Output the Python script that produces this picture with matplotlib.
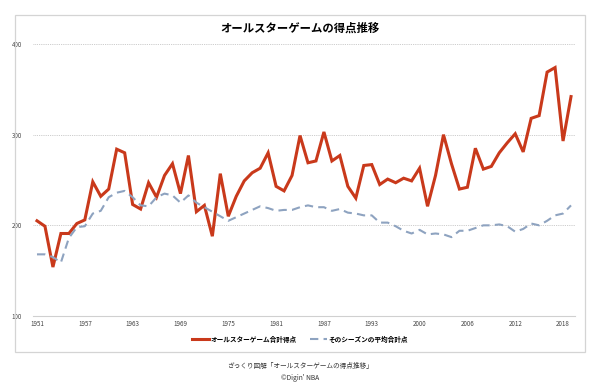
import numpy as np
import matplotlib.pyplot as plt
from matplotlib.patches import Rectangle

plt.rcParams['font.family'] = ['Noto Sans CJK JP', 'DejaVu Sans']

# seasons (1999 game cancelled)
years = list(range(1951, 1999)) + list(range(2000, 2020))

allstar_total = [205, 199, 154, 191, 191, 202, 206, 248, 232, 240,
                 284, 280, 223, 218, 247, 231, 255, 268, 235, 277,
                 215, 222, 188, 257, 210, 232, 249, 258, 263, 280,
                 243, 238, 255, 299, 269, 271, 303, 271, 277, 243,
                 230, 266, 267, 245, 251, 247, 252, 249,
                 263, 221, 255, 300, 268, 240, 242, 285, 262, 265,
                 280, 291, 301, 281, 318, 321, 369, 374, 293, 342]

season_avg = [168, 168, 165, 159, 186, 198, 199, 213, 216, 231,
              236, 238, 231, 222, 221, 231, 235, 233, 225, 233,
              225, 220, 215, 210, 205, 209, 213, 217, 221, 219,
              216, 217, 217, 220, 222, 220, 220, 216, 218, 214,
              213, 211, 211, 203, 203, 199, 194, 191,
              195, 190, 191, 190, 187, 194, 194, 197, 200, 200,
              201, 199, 193, 196, 202, 200, 205, 211, 213, 222]

red = '#c9391b'
blue = '#8ea3c0'

fig = plt.figure(figsize=(6, 3.88), dpi=100)
fig.patches.append(Rectangle((15 / 600, 1 - 352 / 388), 570 / 600, 337 / 388,
                             transform=fig.transFigure, fill=False,
                             edgecolor='#d4d4d4', linewidth=0.9))

ax = fig.add_axes([33 / 600, 1 - 316 / 388, 542 / 600, 272 / 388])
x = np.arange(len(years))
ax.plot(x, allstar_total, color=red, linewidth=2.2, solid_joinstyle='miter',
        label='オールスターゲーム合計得点')
ax.plot(x, season_avg, color=blue, linewidth=1.5, dashes=(4, 2.5),
        label='そのシーズンの平均合計点')

ax.set_xlim(-0.5, len(years) - 0.5)
ax.set_ylim(100, 400)
ax.set_yticks([100, 200, 300, 400])
ax.set_xticks(x[::6])
ax.set_xticklabels([str(years[i]) for i in x[::6]])
ax.tick_params(labelsize=4.5, length=0, colors='#444444', pad=3)
ax.tick_params(axis='y', pad=8)
ax.grid(axis='y', color='#bbbbbb', linestyle=(0, (1, 1.2)), linewidth=0.6)
for side in ['top', 'right', 'left']:
    ax.spines[side].set_visible(False)
ax.spines['bottom'].set_color('#d0d0d0')
ax.spines['bottom'].set_linewidth(0.8)

fig.text(0.5, 1 - 28 / 388, 'オールスターゲームの得点推移', ha='center', va='center',
         fontsize=8.2, fontweight='bold')
fig.legend(loc='center', bbox_to_anchor=(0.5, 1 - 339 / 388), ncol=2,
           frameon=False, handlelength=2.6, columnspacing=2.0,
           handletextpad=0.2, prop={'weight': 'bold', 'size': 4.8})
fig.text(0.5, 1 - 366 / 388, 'ざっくり図解「オールスターゲームの得点推移」', ha='center',
         va='center', fontsize=4.8, color='#333333')
fig.text(0.5, 1 - 378 / 388, "©Digin' NBA", ha='center', va='center',
         fontsize=4.8, color='#333333')

fig.savefig('out.png', dpi=100)
